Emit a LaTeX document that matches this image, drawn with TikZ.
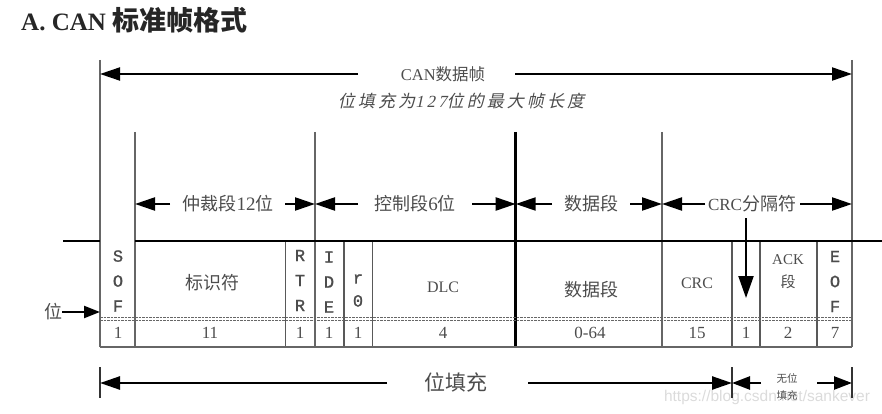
\documentclass[tikz,border=0pt]{standalone}
\usepackage{fontspec}
\usetikzlibrary{arrows.meta}
\setmainfont{Liberation Serif}
\setmonofont{Liberation Mono}[FakeBold=1.2]
\setsansfont{Liberation Sans}
\newfontfamily\zh{Noto Sans CJK SC}
\newfontfamily\zhit{Noto Sans CJK SC}[FakeSlant=0.22,LetterSpace=18]
\newfontfamily\itnum{Liberation Serif}[FakeSlant=0.22,LetterSpace=18]
\begin{document}
\begin{tikzpicture}[x=1pt,y=-1pt,
  gridline/.style={draw=black!60,line width=1.5pt},
  thin grid/.style={draw=black!65,line width=1.2pt},
  arr/.style={-{Triangle[length=20pt,width=13pt]},line width=2.2pt,draw=black},
  lab/.style={text=black!70,inner sep=0pt},
  zhlab/.style={lab,font=\zh\fontsize{18}{20}\selectfont},
  mono/.style={lab,font=\ttfamily\fontsize{17}{25}\selectfont,align=center},
  num/.style={lab,font=\fontsize{17}{20}\selectfont},
  serif lab/.style={lab,font=\fontsize{16}{22}\selectfont,align=center},
]
\useasboundingbox (0,0) rectangle (882,414);

% watermark (behind)
\node[inner sep=0pt,text=black!14,font=\sffamily\fontsize{15.5}{17}\selectfont] (wm) at (767,397) {https://blog.csdn.net/sankever};

% title
\node[anchor=west,inner sep=0pt,text=black!85] (title) at (21,20)
  {\fontsize{25}{28}\selectfont\bfseries A. CAN {\zh\bfseries\fontsize{27}{30}\selectfont 标准帧格式}};

% ---------- grid ----------
\draw[gridline] (100,60) -- (100,347);
\draw[gridline] (852,60) -- (852,347);
\foreach \x in {135,315,662} \draw[gridline] (\x,132) -- (\x,347);
\draw[line width=2.6pt] (515.7,132) -- (515.7,347);
\foreach \x in {285.7,344,372.7,732,760,817} \draw[thin grid] (\x,240.5) -- (\x,347);
\draw[line width=2pt] (63,240.5) -- (100,240.5);
\draw[line width=2pt] (135,240.5) -- (882,240.5);
\draw[gridline,line width=2pt] (100,347) -- (852,347);
\draw[black!60,line width=1pt,dash pattern=on 2.5pt off 1pt] (100,317.5) -- (852,317.5);
\draw[black!60,line width=1pt,dash pattern=on 2.5pt off 1pt] (100,320.5) -- (852,320.5);

% ---------- top: CAN data frame ----------
\node[lab,font=\fontsize{16.5}{18}\selectfont] (frame) at (443,74) {CAN{\zh 数据帧}};
\coordinate (fl) at (358,74);
\coordinate (fr) at (515,74);
\coordinate (fL) at (100,74);
\coordinate (fR) at (852,74);
\draw[arr,line width=2pt] (fl) -- (fL);
\draw[arr,line width=2pt] (fr) -- (fR);
\node[lab] (maxlen) at (461,101) {\zhit\fontsize{17}{20}\selectfont 位填充为{\itnum 127}位的最大帧长度};

% ---------- section labels ----------
\node[zhlab] (arb) at (228,204) {仲裁段{\rmfamily\fontsize{19}{20}\selectfont 12}位};
\node[zhlab] (ctrl) at (415,204) {控制段{\rmfamily\fontsize{19}{20}\selectfont 6}位};
\node[zhlab] (data) at (591,204) {数据段};
\node[zhlab] (crcd) at (752,204) {{\rmfamily\fontsize{17}{20}\selectfont CRC}分隔符};
\coordinate (a1) at (170,204); \coordinate (a0) at (135,204);
\coordinate (a2) at (285,204); \coordinate (a3) at (315,204);
\coordinate (c1) at (358,204); \coordinate (c0) at (315,204);
\coordinate (c2) at (472,204); \coordinate (c3) at (515.7,204);
\coordinate (d1) at (552,204); \coordinate (d0) at (515.7,204);
\coordinate (d2) at (630,204); \coordinate (d3) at (662,204);
\coordinate (r1) at (705,204); \coordinate (r0c) at (662,204);
\coordinate (r2) at (800,204); \coordinate (r3) at (852,204);
\draw[arr] (a1) -- (a0); \draw[arr] (a2) -- (a3);
\draw[arr] (c1) -- (c0); \draw[arr] (c2) -- (c3);
\draw[arr] (d1) -- (d0); \draw[arr] (d2) -- (d3);
\draw[arr] (r1) -- (r0c); \draw[arr] (r2) -- (r3);
\coordinate (vtop) at (746,218);
\coordinate (vbot) at (746,298);
\draw[arr,-{Triangle[length=22pt,width=15pt]}] (vtop) -- (vbot);

% ---------- cell labels ----------
\node[mono] (sof) at (118,281) {S\\O\\F};
\node[zhlab] (id) at (212,283) {标识符};
\node[mono] (rtr) at (300,280.5) {R\\T\\R};
\node[mono] (ide) at (329,282) {I\\D\\E};
\node[mono,font=\ttfamily\fontsize{17}{23}\selectfont] (rzero) at (358,290.5) {r\\0};
\node[serif lab] (dlc) at (443,287) {DLC};
\node[zhlab] (dfield) at (591,290) {数据段};
\node[serif lab] (crcf) at (697,283) {CRC};
\node[lab,align=center,font=\fontsize{15}{23}\selectfont] (ack) at (788,271.5) {ACK\\{\zh 段}};
\node[mono] (eof) at (835,281.5) {E\\O\\F};

% ---------- bit counts ----------
\node[num] (n1) at (118,333) {1};
\node[num] (n2) at (210,333) {11};
\node[num] (n3) at (300,333) {1};
\node[num] (n4) at (329,333) {1};
\node[num] (n5) at (358,333) {1};
\node[num] (n6) at (443,333) {4};
\node[num] (n7) at (590,333) {0-64};
\node[num] (n8) at (697,333) {15};
\node[num] (n9) at (746,333) {1};
\node[num] (n10) at (788,333) {2};
\node[num] (n11) at (835,333) {7};

% ---------- bit marker ----------
\node[zhlab] (wei) at (53,312) {位};
\coordinate (weitip) at (100,312);
\draw[arr,-{Triangle[length=16pt,width=12pt]}] (wei.east) -- (weitip);

% ---------- bottom: bit stuffing ----------
\draw[line width=1.2pt,black!80] (100,367) -- (100,398);
\draw[line width=1.2pt,black!80] (732,367) -- (732,398);
\draw[line width=1.2pt,black!80] (852,367) -- (852,398);
\node[zhlab,font=\zh\fontsize{21}{22}\selectfont] (stuff) at (456,382) {位填充};
\coordinate (s1) at (387,383); \coordinate (s0) at (100,383);
\coordinate (s2) at (528,383); \coordinate (s3) at (732,383);
\coordinate (t1) at (761,383); \coordinate (t0) at (732,383);
\coordinate (t2) at (817,383); \coordinate (t3) at (852,383);
\draw[arr,line width=2.5pt] (s1) -- (s0);
\draw[arr,line width=2.5pt] (s2) -- (s3);
\draw[arr,line width=2.5pt,-{Triangle[length=18pt,width=13pt]}] (t1) -- (t0);
\draw[arr,line width=2.5pt,-{Triangle[length=18pt,width=13pt]}] (t2) -- (t3);
\node[lab,align=center,font=\zh\fontsize{10.5}{17}\selectfont] (nostuff) at (787,387) {无位\\填充};
\end{tikzpicture}
\end{document}
